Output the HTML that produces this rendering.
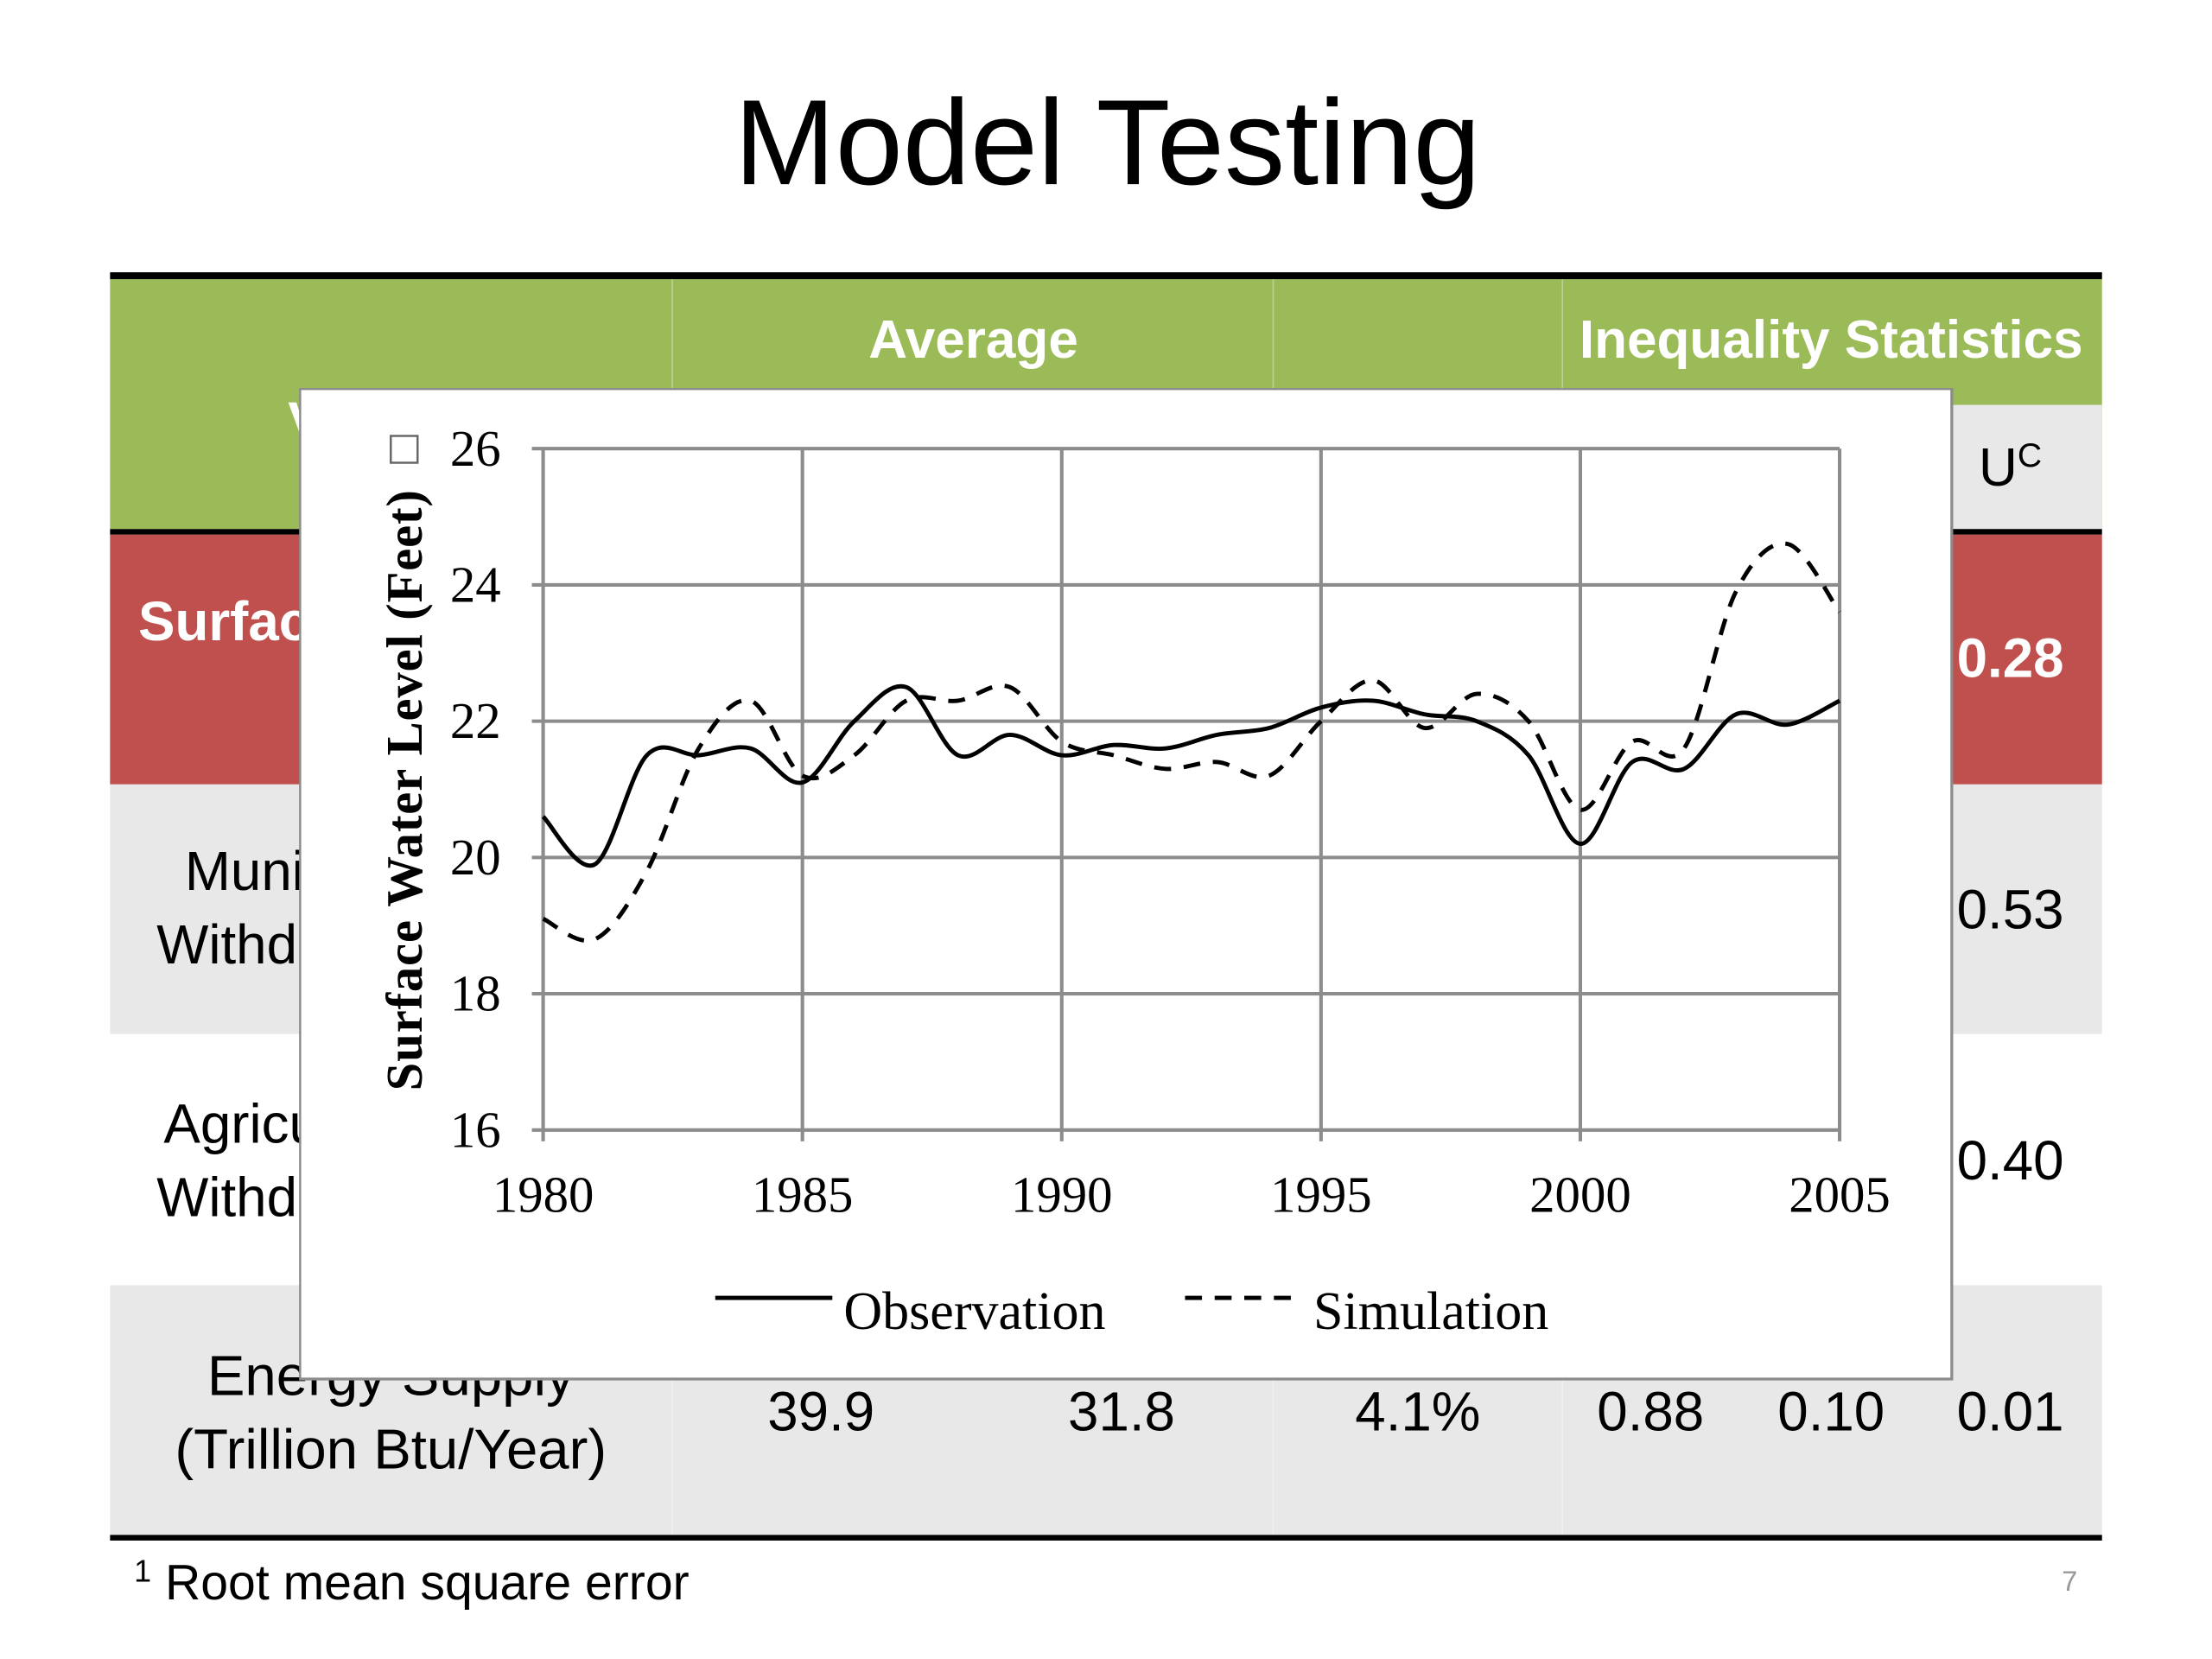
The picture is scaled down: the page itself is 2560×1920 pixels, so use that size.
<!DOCTYPE html>
<html><head><meta charset="utf-8">
<style>
html,body{margin:0;padding:0;background:#fff;}
body{width:2560px;height:1920px;overflow:hidden;position:relative;}
#stage{position:absolute;left:0;top:0;width:1568px;height:1176px;transform:scale(1.6327);transform-origin:0 0;font-family:"Liberation Sans",sans-serif;}
.abs{position:absolute;}
.cell{position:absolute;}
.t{position:absolute;white-space:nowrap;transform:translate(-50%,-50%);font-size:38px;color:#000;}
.l{position:absolute;white-space:nowrap;transform:translate(0,-50%);font-size:39px;color:#000;}
.w{color:#fff;font-weight:bold;}
</style></head>
<body>
<div id="stage">
  <div class="t" style="left:785px;top:102px;font-size:86px;">Model Testing</div>

  <div>
    <div class="cell" style="left:78px;top:193px;width:1412px;height:5px;background:#000"></div>
    <div class="cell" style="left:78px;top:198px;width:1412px;height:177px;background:#9bbb59"></div>
    <div class="cell" style="left:1107px;top:287px;width:383px;height:88px;background:#e8e8e8"></div>
    <div class="cell" style="left:78px;top:375px;width:1412px;height:4px;background:#000"></div>
    <div class="cell" style="left:78px;top:379px;width:1412px;height:177px;background:#c0504d"></div>
    <div class="cell" style="left:78px;top:556px;width:1412px;height:177px;background:#e8e8e8"></div>
    <div class="cell" style="left:78px;top:733px;width:1412px;height:178px;background:#fff"></div>
    <div class="cell" style="left:78px;top:911px;width:1412px;height:177px;background:#e8e8e8"></div>
    <div class="cell" style="left:78px;top:1088px;width:1412px;height:4px;background:#000"></div>
    <div class="cell" style="left:476px;top:198px;width:1px;height:890px;background:rgba(255,255,255,0.35)"></div>
    <div class="cell" style="left:902px;top:198px;width:1px;height:890px;background:rgba(255,255,255,0.35)"></div>
    <div class="cell" style="left:1107px;top:198px;width:1px;height:890px;background:rgba(255,255,255,0.35)"></div>

    <div class="t w" style="left:690px;top:242px;">Average</div>
    <div class="t w" style="left:1298px;top:242px;">Inequality Statistics</div>
    <div class="t w" style="left:277px;top:300px;">Variable</div>
    <div class="t w" style="left:1005px;top:300px;">RMSE¹</div>
    <div class="t" style="left:1425px;top:332px;">U<sup style="font-size:24px">C</sup></div>

    <div class="l w" style="left:98px;top:442px;">Surface Water</div>
    <div class="l" style="left:131px;top:619px;">Municipal</div>
    <div class="l" style="left:111px;top:671px;">Withdrawal</div>
    <div class="l" style="left:116px;top:798px;">Agricultural</div>
    <div class="l" style="left:111px;top:850px;">Withdrawal</div>
    <div class="t" style="left:277px;top:1002px;line-height:52px;text-align:center;font-size:40px;">Energy Supply<br>(Trillion Btu/Year)</div>

    <div class="t w" style="left:1425px;top:468px;font-size:39px;">0.28</div>
    <div class="t" style="left:1425px;top:646px;font-size:39px;">0.53</div>
    <div class="t" style="left:1425px;top:824px;font-size:39px;">0.40</div>
    <div class="t" style="left:582px;top:1002px;font-size:39px;">39.9</div>
    <div class="t" style="left:795px;top:1002px;font-size:39px;">31.8</div>
    <div class="t" style="left:1005px;top:1002px;font-size:39px;">4.1%</div>
    <div class="t" style="left:1170px;top:1002px;font-size:39px;">0.88</div>
    <div class="t" style="left:1298px;top:1002px;font-size:39px;">0.10</div>
    <div class="t" style="left:1425px;top:1002px;font-size:39px;">0.01</div>
  </div>

  <div class="l" style="left:95px;top:1122px;font-size:35px;"><sup style="font-size:22px">1</sup> Root mean square error</div>
  <div class="t" style="left:1467px;top:1122px;font-size:20px;color:#999;">7</div>

  <svg id="chart" class="abs" style="left:212px;top:275px;" width="1173" height="704" viewBox="212 275 1173 704"></svg>
</div>
<script>
const years = [1980,1981,1982,1983,1984,1985,1986,1987,1988,1989,1990,1991,1992,1993,1994,1995,1996,1997,1998,1999,2000,2001,2002,2003,2004,2005];
const observation = [20.6,19.9,21.5,21.5,21.6,21.1,22.0,22.5,21.5,21.8,21.5,21.65,21.6,21.8,21.9,22.2,22.3,22.1,22.0,21.5,20.2,21.4,21.3,22.1,21.95,22.3];
const simulation = [19.1,18.8,19.8,21.6,22.3,21.2,21.5,22.3,22.3,22.5,21.7,21.5,21.3,21.4,21.2,22.0,22.6,21.9,22.4,22.0,20.7,21.7,21.6,23.9,24.6,23.6];
const yTicks = [16,18,20,22,24,26];
const xTicks = [1980,1985,1990,1995,2000,2005];

const NS='http://www.w3.org/2000/svg';
const svg=document.getElementById('chart');
const X0=385,X1=1304,Y0=801,Y1=318;
function xs(v){return X0+(v-1980)/(2005-1980)*(X1-X0);}
function ys(v){return Y0-(v-16)/(26-16)*(Y0-Y1);}
function mk(tag,attrs){const e=document.createElementNS(NS,tag);for(const k in attrs)e.setAttribute(k,attrs[k]);svg.appendChild(e);return e;}

let bg=mk('rect',{x:212.5,y:275.5,width:1171,height:702,fill:'#fff',stroke:'#8c8c8c','stroke-width':2});



yTicks.forEach(v=>{
  const l=mk('line',{x1:X0-8,x2:X1,y1:ys(v),y2:ys(v),stroke:'#8c8c8c','stroke-width':2.5});
  
  
  const t=mk('text',{x:337,y:ys(v)+12,'text-anchor':'middle','font-family':'Liberation Serif, serif','font-size':36});
  t.textContent=v;
  
  
});
xTicks.forEach(v=>{
  const l=mk('line',{x1:xs(v),x2:xs(v),y1:Y1,y2:Y0+8,stroke:'#8c8c8c','stroke-width':2.5});
  
  
  const t=mk('text',{x:xs(v),y:859,'text-anchor':'middle','font-family':'Liberation Serif, serif','font-size':36});
  t.textContent=v;
  
  
});

function smooth(vals){
  const p=vals.map((v,i)=>[xs(years[i]),ys(v)]);
  let d='M'+p[0][0]+','+p[0][1];
  for(let i=0;i<p.length-1;i++){
    const a=p[Math.max(0,i-1)],b=p[i],c=p[i+1],e=p[Math.min(p.length-1,i+2)];
    const c1=[b[0]+(c[0]-a[0])/6,b[1]+(c[1]-a[1])/6];
    const c2=[c[0]-(e[0]-b[0])/6,c[1]-(e[1]-b[1])/6];
    d+=' C'+c1[0]+','+c1[1]+' '+c2[0]+','+c2[1]+' '+c[0]+','+c[1];
  }
  return d;
}
const sim=mk('path',{d:smooth(simulation),fill:'none',stroke:'#000','stroke-width':3,'stroke-dasharray':'12,9'});


const obs=mk('path',{d:smooth(observation),fill:'none',stroke:'#000','stroke-width':3});



const yt=mk('text',{x:0,y:0,transform:'translate(299,560) rotate(-90)','text-anchor':'middle','font-family':'Liberation Serif, serif','font-size':36,'font-weight':'bold','letter-spacing':0.5});
yt.textContent='Surface Water Level (Feet)';


const sq=mk('rect',{x:277,y:309,width:19,height:19,fill:'#fff',stroke:'#666','stroke-width':1.5});



const l1=mk('line',{x1:507,x2:590,y1:920,y2:920,stroke:'#000','stroke-width':3});


const t1=mk('text',{x:598,y:942,'font-family':'Liberation Serif, serif','font-size':38});
t1.textContent='Observation';


const l2=mk('line',{x1:840,x2:920,y1:920,y2:920,stroke:'#000','stroke-width':3,'stroke-dasharray':'12,9'});


const t2=mk('text',{x:931,y:942,'font-family':'Liberation Serif, serif','font-size':38});
t2.textContent='Simulation';


</script>
</body></html>
